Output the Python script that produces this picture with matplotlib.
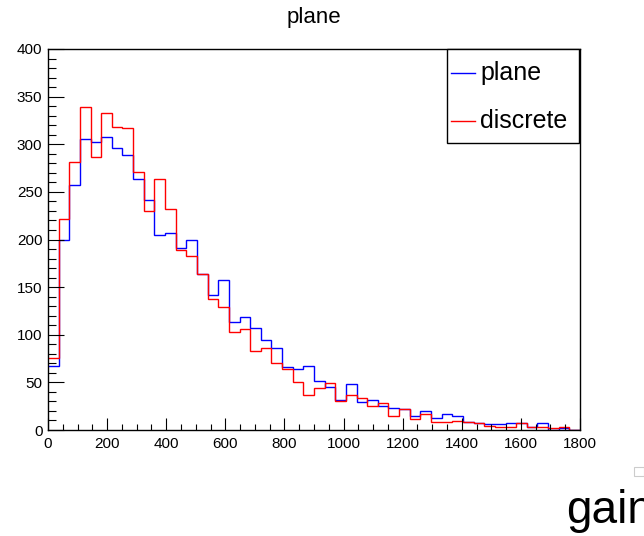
import numpy as np
import matplotlib
matplotlib.use("Agg")
import matplotlib.pyplot as plt
from matplotlib.patches import Rectangle
from matplotlib.lines import Line2D
from matplotlib.ticker import MultipleLocator

plt.rcParams['font.family'] = ['Liberation Sans', 'DejaVu Sans']

title = "plane"
x_label = "gain"
series_names = ["plane", "discrete"]
bin_edges = np.linspace(0, 1800, 51)

plane = [67, 199, 257, 305, 302, 308, 296, 289, 263, 241,
         205, 207, 191, 200, 164, 142, 157, 113, 119, 107,
         94, 86, 66, 64, 67, 51, 45, 31, 48, 29,
         32, 25, 23, 22, 15, 20, 13, 17, 15, 8,
         7, 6, 6, 7, 7, 3, 7, 0, 2, 0]
discrete = [76, 222, 281, 339, 287, 333, 318, 317, 271, 230,
            264, 232, 189, 183, 164, 138, 129, 103, 106, 83,
            86, 70, 64, 50, 37, 44, 49, 30, 37, 34,
            25, 28, 15, 22, 12, 17, 8, 8, 9, 8,
            7, 4, 3, 3, 7, 3, 3, 2, 3, 0]

W, H = 644, 536
fig = plt.figure(figsize=(W / 100, H / 100), dpi=100)

def fx(px):
    return px / W

def fy(py):
    return 1 - py / H

ax = fig.add_axes([fx(48), fy(430), fx(580) - fx(48), fy(49) - fy(430)])
ax.stairs(plane, bin_edges, color=(0, 0, 1), lw=1.0, baseline=None)
ax.stairs(discrete, bin_edges, color=(1, 0, 0), lw=1.0, baseline=None)

ax.set_xlim(0, 1800)
ax.set_ylim(0, 400)
for s in ax.spines.values():
    s.set_linewidth(1.0)
    s.set_color('black')

ax.xaxis.set_major_locator(MultipleLocator(200))
ax.xaxis.set_minor_locator(MultipleLocator(50))
ax.yaxis.set_major_locator(MultipleLocator(50))
ax.yaxis.set_minor_locator(MultipleLocator(10))
ax.tick_params(axis='x', which='major', direction='in', length=8.6, width=0.8,
               labelsize=11, pad=5, top=False)
ax.tick_params(axis='x', which='minor', direction='in', length=4.3, width=0.8, top=False)
ax.tick_params(axis='y', which='major', direction='in', length=11.5, width=0.8,
               labelsize=11, pad=4, right=False)
ax.tick_params(axis='y', which='minor', direction='in', length=5.8, width=0.8, right=False)

# Title
fig.text(fx(314), fy(18), title, ha='center', va='center', fontsize=16)

# Legend box (manual, ROOT style)
fig.patches.append(Rectangle((fx(447), fy(143)), fx(579) - fx(447), fy(49) - fy(143),
                             transform=fig.transFigure, facecolor='white',
                             edgecolor='black', lw=1.0, zorder=5))
colors = [(0, 0, 1), (1, 0, 0)]
ys = [73, 121]
for name, c, yy in zip(series_names, colors, ys):
    fig.lines.append(Line2D([fx(451), fx(475)], [fy(yy), fy(yy)],
                            transform=fig.transFigure, color=c, lw=1.0, zorder=6))
    fig.text(fx(480), fy(yy), name, ha='left', va='center', fontsize=18, zorder=6)

# x-axis title (cropped at the canvas edge, as in ROOT output)
fig.text(fx(566), fy(523), x_label, ha='left', va='baseline', fontsize=33)

# small gray marker at canvas corner
fig.patches.append(Rectangle((fx(634), fy(476)), fx(10), fy(0) - fy(9),
                             transform=fig.transFigure, facecolor='none',
                             edgecolor='#cccccc', lw=0.8))

fig.savefig("out.png", dpi=100)
